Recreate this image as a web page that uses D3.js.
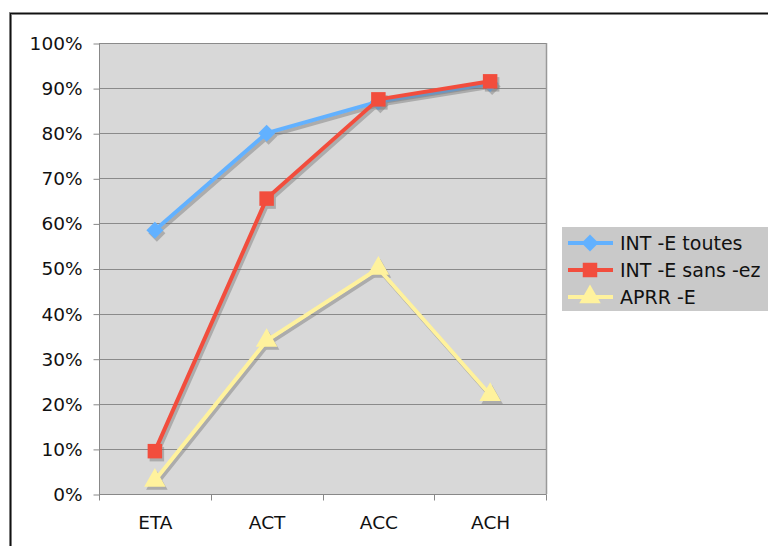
<!DOCTYPE html>
<html>
<head>
<meta charset="utf-8">
<script src="https://cdn.jsdelivr.net/npm/d3@7"></script>
<style>
  html, body { margin: 0; padding: 0; background: #fff; }
  svg { display: block; }
  text { font-family: "DejaVu Sans", Verdana, sans-serif; }
</style>
</head>
<body>
<svg id="chart" width="768" height="546"></svg>
<script>
// Categories along the x axis
const categories = ["ETA", "ACT", "ACC", "ACH"];

// Series values (fraction of 1)
const intToutes = [0.585, 0.80, 0.87, 0.91];
const intSansEz = [0.095, 0.655, 0.875, 0.915];
const aprr = [0.03, 0.34, 0.50, 0.22];

const seriesNames = ["INT -E toutes", "INT -E sans -ez", "APRR -E"];
const seriesColors = ["#62b1ff", "#f24d3d", "#fff29d"];
const seriesShapes = ["diamond", "square", "triangle"];

// Y tick values
const yTicks = [0, 0.1, 0.2, 0.3, 0.4, 0.5, 0.6, 0.7, 0.8, 0.9, 1.0];

const FONT = '"DejaVu Sans", Verdana, sans-serif';
const svg = d3.select("#chart");
const plot = { left: 99, top: 43, right: 546, bottom: 494 };

// outer frame (open to the right and bottom)
svg.append("path")
  .attr("d", "M10.5,546 V13.5 H768")
  .attr("fill", "none").attr("stroke", "#888").attr("stroke-width", 3);
svg.append("path")
  .attr("d", "M10.5,546 V13.5 H768")
  .attr("fill", "none").attr("stroke", "#111").attr("stroke-width", 1.2);

const x = d3.scaleBand().domain(categories).range([plot.left, plot.right]);
const y = d3.scaleLinear().domain([0, 1]).range([plot.bottom, plot.top]);

// plot background
svg.append("rect")
  .attr("x", plot.left).attr("y", plot.top)
  .attr("width", plot.right - plot.left).attr("height", plot.bottom - plot.top)
  .attr("fill", "#d8d8d8");

// horizontal gridlines
svg.append("g").selectAll("line").data(yTicks).join("line")
  .attr("x1", plot.left).attr("x2", plot.right)
  .attr("y1", d => Math.round(y(d)) + 0.5).attr("y2", d => Math.round(y(d)) + 0.5)
  .attr("stroke", "#8a8a8a").attr("stroke-width", 1);

// right edge of plot area
svg.append("line")
  .attr("x1", plot.right + 0.5).attr("x2", plot.right + 0.5)
  .attr("y1", plot.top).attr("y2", plot.bottom)
  .attr("stroke", "#999").attr("stroke-width", 1.5);

// y axis
const yAxis = svg.append("g")
  .attr("transform", `translate(${plot.left + 0.5},0.5)`)
  .call(d3.axisLeft(y).tickValues(yTicks).tickFormat(d3.format(".0%")).tickSize(6).tickPadding(11));
yAxis.attr("font-size", 18.5).attr("font-family", FONT);
yAxis.select(".domain").attr("stroke", "#888").attr("d", `M0,${plot.top}V${plot.bottom}`);
yAxis.selectAll(".tick line").attr("stroke", "#888");
yAxis.selectAll("text").attr("fill", "#111");

// x axis, ticks on band boundaries
const xAxis = svg.append("g")
  .attr("transform", `translate(0.5,${plot.bottom + 0.5})`)
  .call(d3.axisBottom(x).tickSize(0).tickPadding(21));
xAxis.attr("font-size", 18.5).attr("font-family", FONT);
xAxis.select(".domain").attr("stroke", "#888").attr("d", `M${plot.left},0H${plot.right}`);
xAxis.selectAll("text").attr("fill", "#111");
const bounds = categories.map(c => x(c)).concat([x.range()[1]]);
xAxis.selectAll(".bound").data(bounds).join("line")
  .attr("class", "bound")
  .attr("x1", d => Math.round(d)).attr("x2", d => Math.round(d))
  .attr("y1", 0).attr("y2", 6).attr("stroke", "#888");

const allSeries = [intToutes, intSansEz, aprr];
const cx = c => x(c) + x.bandwidth() / 2;

const line = d3.line()
  .x((d, i) => cx(categories[i]))
  .y(d => y(d));

function markerPath(shape) {
  if (shape === "diamond") return "M0,-8.5L8.5,0L0,8.5L-8.5,0Z";
  if (shape === "square") return d3.symbol(d3.symbolSquare, 210)();
  return d3.symbol(d3.symbolTriangle, 200)();
}

// draw series: shadow first, then line and markers
allSeries.forEach((vals, s) => {
  const g = svg.append("g");
  const sh = g.append("g").attr("transform", "translate(2,3)").attr("opacity", 0.45);
  sh.append("path").attr("d", line(vals))
    .attr("fill", "none").attr("stroke", "#777").attr("stroke-width", 4)
    .attr("stroke-linejoin", "round");
  sh.selectAll("path.shadow-marker").data(vals).join("path").attr("class", "shadow-marker")
    .attr("d", markerPath(seriesShapes[s]))
    .attr("transform", (d, i) => `translate(${cx(categories[i])},${y(d)})`)
    .attr("fill", "#777");
  g.append("path").attr("d", line(vals))
    .attr("fill", "none").attr("stroke", seriesColors[s]).attr("stroke-width", 4)
    .attr("stroke-linejoin", "round");
  g.selectAll("path.marker").data(vals).join("path").attr("class", "marker")
    .attr("d", markerPath(seriesShapes[s]))
    .attr("transform", (d, i) => `translate(${cx(categories[i])},${y(d)})`)
    .attr("fill", seriesColors[s]);
});

// legend
const legend = svg.append("g").attr("transform", "translate(562,227)");
legend.append("rect").attr("width", 206).attr("height", 84).attr("fill", "#c9c9c9");
seriesNames.forEach((name, i) => {
  const row = legend.append("g").attr("transform", `translate(0,${16 + i * 27})`);
  row.append("line").attr("x1", 6).attr("x2", 51).attr("y1", 0).attr("y2", 0)
    .attr("stroke", seriesColors[i]).attr("stroke-width", 4);
  row.append("path").attr("d", markerPath(seriesShapes[i]))
    .attr("transform", "translate(28,0)").attr("fill", seriesColors[i]);
  row.append("text").attr("x", 58).attr("y", 7).attr("font-size", 19)
    .attr("fill", "#111").text(name);
});
</script>
</body>
</html>
